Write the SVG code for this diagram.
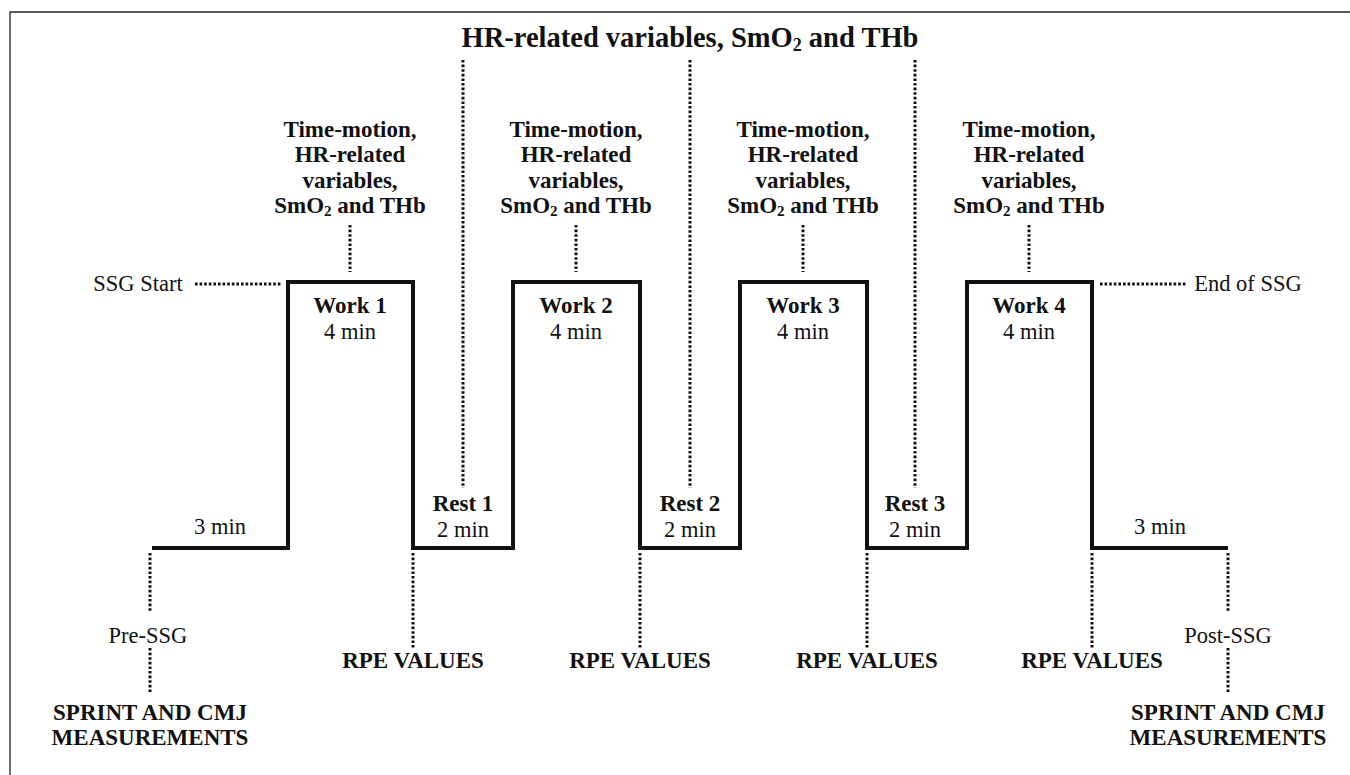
<svg xmlns="http://www.w3.org/2000/svg" width="1350" height="775" viewBox="0 0 1350 775">
<style>
text{font-family:"Liberation Serif","Times New Roman",serif;fill:#111;text-anchor:middle}
.b{font-weight:bold;font-size:23px}
.r{font-size:22.5px}
.t{font-weight:bold;font-size:28.5px}
.dot{stroke:#111;stroke-width:3;stroke-dasharray:2.6 2;fill:none}
.step{stroke:#111;stroke-width:4;fill:none;stroke-linejoin:miter}
.frame{stroke:#222;stroke-width:1.3;fill:none}
</style>
<rect width="1350" height="775" fill="#fff"/>
<path class="frame" d="M10,775 V12 H1350"/>
<g id="connectors">
<path class="step" d="M152,548 H288 V282 H413 V548 H513 V282 H640 V548 H740 V282 H867 V548 H967 V282 H1092 V548 H1228"/>
<path class="dot" d="M463,60 V488 M690,60 V488 M915,60 V488"/>
<path class="dot" d="M350,225 V272 M576,225 V272 M803,225 V272 M1029,225 V272"/>
<path class="dot" d="M195,284 H282 M1100,284 H1186"/>
<path class="dot" d="M150,553 V612 M150,648 V694 M1228,553 V612 M1228,648 V694"/>
<path class="dot" d="M413,553 V648 M640,553 V648 M867,553 V648 M1092,553 V648"/>
</g>
<g id="title"><text class="t" x="690" y="47">HR-related variables, SmO<tspan font-size="18" dy="4">2</tspan><tspan dy="-4"> and THb</tspan></text></g>
<g id="tm1"><text class="b" x="350" y="137">Time-motion,</text><text class="b" x="350" y="162">HR-related</text><text class="b" x="350" y="188">variables,</text><text class="b" x="350" y="213">SmO<tspan font-size="15" dy="3">2</tspan><tspan dy="-3"> and THb</tspan></text></g>
<g id="tm2"><text class="b" x="576" y="137">Time-motion,</text><text class="b" x="576" y="162">HR-related</text><text class="b" x="576" y="188">variables,</text><text class="b" x="576" y="213">SmO<tspan font-size="15" dy="3">2</tspan><tspan dy="-3"> and THb</tspan></text></g>
<g id="tm3"><text class="b" x="803" y="137">Time-motion,</text><text class="b" x="803" y="162">HR-related</text><text class="b" x="803" y="188">variables,</text><text class="b" x="803" y="213">SmO<tspan font-size="15" dy="3">2</tspan><tspan dy="-3"> and THb</tspan></text></g>
<g id="tm4"><text class="b" x="1029" y="137">Time-motion,</text><text class="b" x="1029" y="162">HR-related</text><text class="b" x="1029" y="188">variables,</text><text class="b" x="1029" y="213">SmO<tspan font-size="15" dy="3">2</tspan><tspan dy="-3"> and THb</tspan></text></g>
<g id="ssgstart"><text class="r" x="138" y="291">SSG Start</text></g>
<g id="ssgend"><text class="r" x="1248" y="291">End of SSG</text></g>
<g id="work1"><text class="b" x="350" y="313">Work 1</text><text class="r" x="350" y="339">4 min</text></g>
<g id="work2"><text class="b" x="576" y="313">Work 2</text><text class="r" x="576" y="339">4 min</text></g>
<g id="work3"><text class="b" x="803" y="313">Work 3</text><text class="r" x="803" y="339">4 min</text></g>
<g id="work4"><text class="b" x="1029" y="313">Work 4</text><text class="r" x="1029" y="339">4 min</text></g>
<g id="rest1"><text class="b" x="463" y="511">Rest 1</text><text class="r" x="463" y="537">2 min</text></g>
<g id="rest2"><text class="b" x="690" y="511">Rest 2</text><text class="r" x="690" y="537">2 min</text></g>
<g id="rest3"><text class="b" x="915" y="511">Rest 3</text><text class="r" x="915" y="537">2 min</text></g>
<g id="pre3"><text class="r" x="220" y="534">3 min</text></g>
<g id="post3"><text class="r" x="1160" y="534">3 min</text></g>
<g id="pre"><text class="r" x="148" y="643">Pre-SSG</text><text class="b" x="150" y="720">SPRINT AND CMJ</text><text class="b" x="150" y="745">MEASUREMENTS</text></g>
<g id="post"><text class="r" x="1228" y="643">Post-SSG</text><text class="b" x="1228" y="720">SPRINT AND CMJ</text><text class="b" x="1228" y="745">MEASUREMENTS</text></g>
<g id="rpe1"><text class="b" x="413" y="668">RPE VALUES</text></g>
<g id="rpe2"><text class="b" x="640" y="668">RPE VALUES</text></g>
<g id="rpe3"><text class="b" x="867" y="668">RPE VALUES</text></g>
<g id="rpe4"><text class="b" x="1092" y="668">RPE VALUES</text></g>
</svg>
